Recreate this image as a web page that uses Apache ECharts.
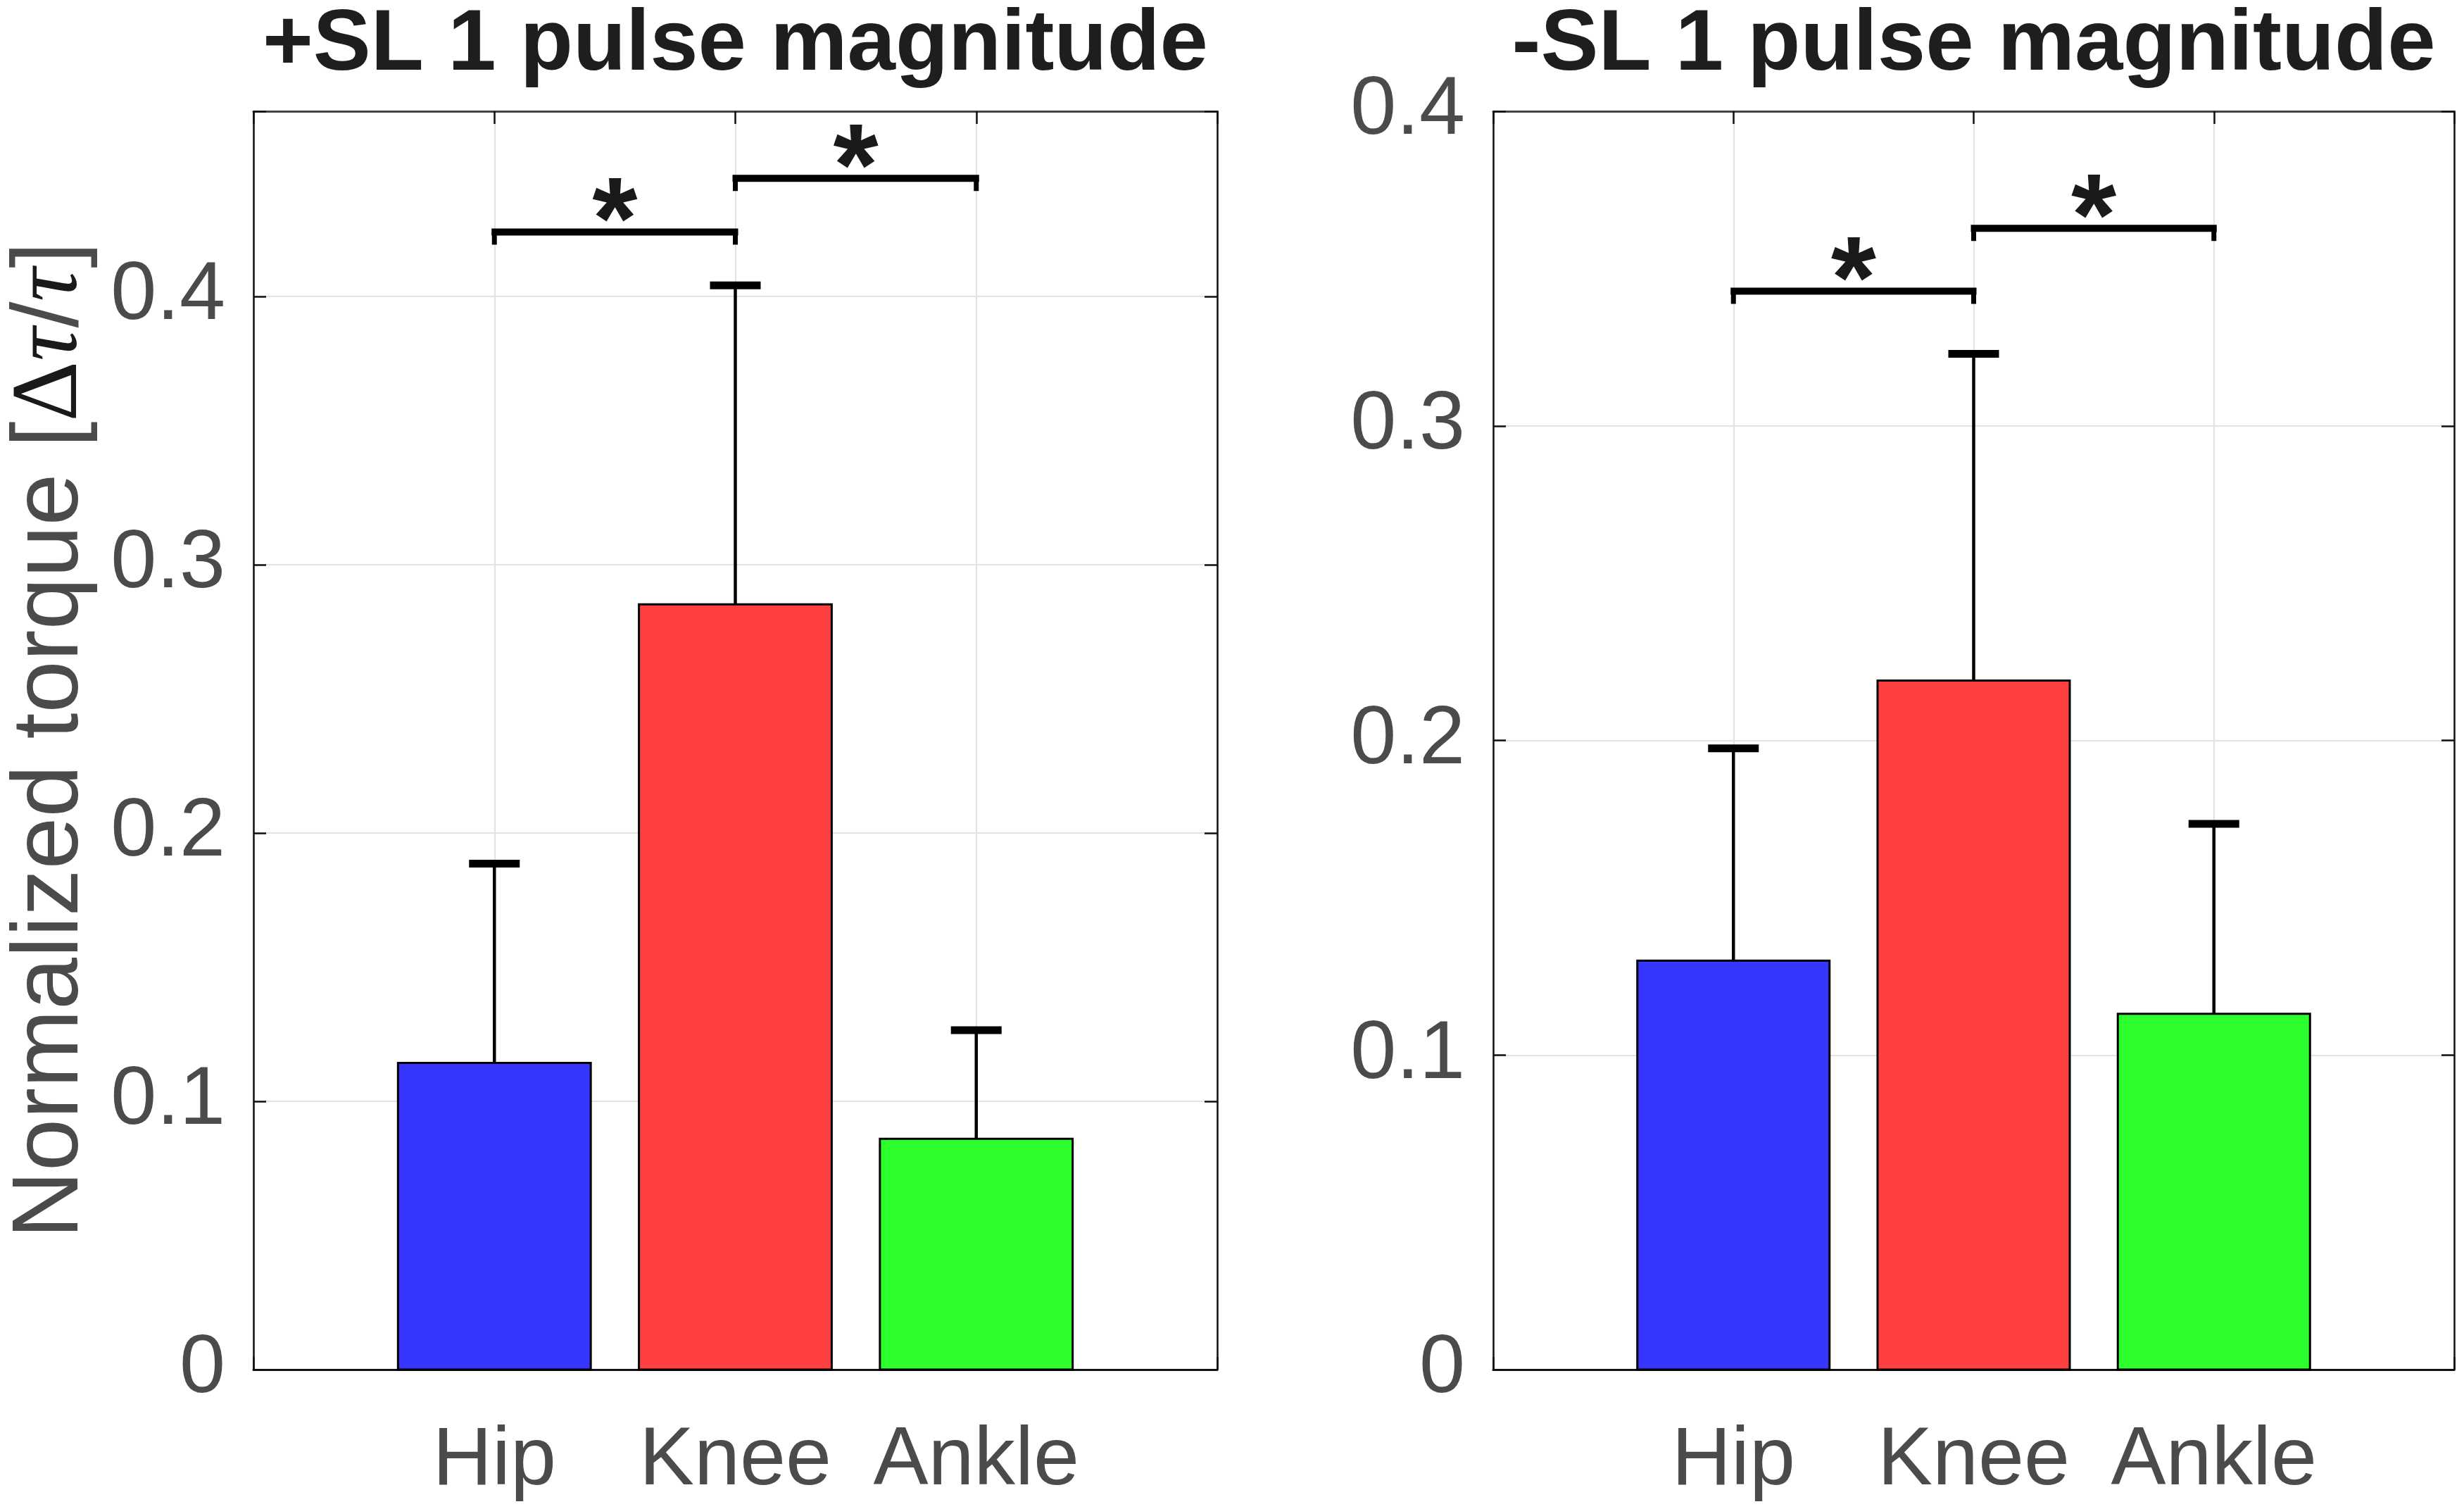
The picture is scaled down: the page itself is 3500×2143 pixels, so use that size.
<!DOCTYPE html>
<html><head><meta charset="utf-8">
<script src="https://cdn.jsdelivr.net/npm/echarts@6/dist/echarts.min.js"></script>
<style>html,body{margin:0;padding:0;background:#fff}#c{width:3500px;height:2143px}</style>
</head><body><div id="c"></div>
<script>
// ---- data ----
const categories = ['Hip', 'Knee', 'Ankle'];
const barColors = ['#3636ff', '#ff4040', '#2cff2c'];
const titles = ['+SL 1 pulse magnitude', '-SL 1 pulse magnitude'];
const yTicks = [0, 0.1, 0.2, 0.3, 0.4];
// +SL panel
const posMean = [0.1143, 0.2852, 0.0860];
const posSD   = [0.0743, 0.1189, 0.0405];
// -SL panel
const negMean = [0.1300, 0.2190, 0.1131];
const negSD   = [0.0675, 0.1039, 0.0604];
// significance brackets: [from, to] categories and bracket heights
const bracketPairs = [['Hip', 'Knee'], ['Knee', 'Ankle']];
const posBracketY = [0.4240, 0.4440];
const negBracketY = [0.3428, 0.3628];
const bracketMarks = ['*', '*'];
const posYMax = 0.469;
const negYMax = 0.4;

// ---- build ----
const catPos = c => categories.indexOf(c) + 1;
const barData = (m, s) => m.map((v, i) => [i + 1, v, s[i]]);
const brData = ys => bracketPairs.map((p, i) => [catPos(p[0]), catPos(p[1]), ys[i]]);

function barRender(params, api) {
  const x = api.value(0), m = api.value(1), sd = api.value(2);
  const base = api.coord([x, 0]);
  const top = api.coord([x, m]);
  const w = api.size([0.8, 0])[0];
  const et = api.coord([x, m + sd]);
  const capW = 72;
  return { type: 'group', children: [
    { type: 'rect', shape: { x: base[0] - w / 2, y: top[1], width: w, height: base[1] - top[1] },
      style: { fill: barColors[params.dataIndex], stroke: '#000', lineWidth: 3 } },
    { type: 'line', shape: { x1: top[0], y1: top[1], x2: top[0], y2: et[1] },
      style: { stroke: '#000', lineWidth: 4.5 } },
    { type: 'rect', shape: { x: et[0] - capW / 2, y: et[1] - 5.5, width: capW, height: 11 },
      style: { fill: '#000' } }
  ]};
}
function brRender(params, api) {
  const a = api.coord([api.value(0), api.value(2)]);
  const b = api.coord([api.value(1), api.value(2)]);
  const tip = 18;
  return { type: 'group', children: [
    { type: 'line', shape: { x1: a[0] - 4, y1: a[1], x2: b[0] + 4, y2: b[1] }, style: { stroke: '#000', lineWidth: 10 } },
    { type: 'line', shape: { x1: a[0], y1: a[1], x2: a[0], y2: a[1] + tip }, style: { stroke: '#000', lineWidth: 7 } },
    { type: 'line', shape: { x1: b[0], y1: b[1], x2: b[0], y2: b[1] + tip }, style: { stroke: '#000', lineWidth: 7 } },
    { type: 'text', x: (a[0] + b[0]) / 2, y: a[1] - 8,
      style: { text: bracketMarks[params.dataIndex], fontSize: 165, fontWeight: 'bold', fontFamily: 'Liberation Sans',
               fill: '#1a1a1a', align: 'center', verticalAlign: 'middle' } }
  ]};
}

const FONT = 'Liberation Sans';
const labelColor = '#4b4b4b';
function xAxes(gi) {
  return [
    { gridIndex: gi, type: 'value', min: 0, max: 4, interval: 1, position: 'bottom',
      axisLine: { show: true, onZero: false, lineStyle: { color: '#111', width: 3 } },
      axisTick: { show: true, inside: true, length: 18, lineStyle: { color: '#111', width: 2.5 } },
      axisLabel: { show: true, margin: 72, fontSize: 117, color: labelColor, fontFamily: FONT,
                   formatter: v => categories[v - 1] || '' },
      splitLine: { show: true, lineStyle: { color: '#e3e3e3', width: 2 } } },
    { gridIndex: gi, type: 'value', min: 0, max: 4, interval: 1, position: 'top',
      axisLine: { show: true, onZero: false, lineStyle: { color: '#444', width: 3 } },
      axisTick: { show: true, inside: true, length: 18, lineStyle: { color: '#111', width: 2.5 } },
      axisLabel: { show: false }, splitLine: { show: false } }
  ];
}
function yAxes(gi, max, withName) {
  const main = { gridIndex: gi, type: 'value', min: 0, max: max, interval: 0.1, position: 'left',
      axisLine: { show: true, onZero: false, lineStyle: { color: '#111', width: 2.5 } },
      axisTick: { show: true, inside: true, length: 18, lineStyle: { color: '#111', width: 2.5 } },
      axisLabel: { show: true, margin: 40, fontSize: 117, color: labelColor, fontFamily: FONT,
                   formatter: v => (yTicks.some(t => Math.abs(t - v) < 1e-9) ? String(+v.toFixed(1)) : '') },
      splitLine: { show: true, lineStyle: { color: '#e3e3e3', width: 2 } } };
  if (withName) {
    main.name = 'Normalized torque [{d|Δ}{t|τ}/{t|τ}]';
    main.nameLocation = 'middle';
    main.nameGap = 220;
    main.nameTextStyle = { fontSize: 133, color: labelColor, fontFamily: FONT,
      rich: { d: { fontSize: 133, fontFamily: 'Liberation Serif', color: '#1a1a1a' },
              t: { fontSize: 133, fontFamily: 'Liberation Serif', fontStyle: 'italic', color: '#1a1a1a' } } };
  }
  return [main,
    { gridIndex: gi, type: 'value', min: 0, max: max, interval: 0.1, position: 'right',
      axisLine: { show: true, onZero: false, lineStyle: { color: '#111', width: 2.5 } },
      axisTick: { show: true, inside: true, length: 18, lineStyle: { color: '#111', width: 2.5 } },
      axisLabel: { show: false }, splitLine: { show: false } }];
}

const chart = echarts.init(document.getElementById('c'), null, { renderer: 'canvas' });
chart.setOption({
  backgroundColor: '#fff',
  animation: false,
  title: [
    { text: titles[0], left: 1044.5, top: 4, textAlign: 'center', padding: 0,
      textStyle: { fontSize: 123, fontWeight: 'bold', color: '#1e1e1e', fontFamily: FONT } },
    { text: titles[1], left: 2803.5, top: 4, textAlign: 'center', padding: 0,
      textStyle: { fontSize: 123, fontWeight: 'bold', color: '#1e1e1e', fontFamily: FONT } }
  ],
  grid: [
    { left: 360, right: 1771, top: 158, bottom: 198, containLabel: false, outerBoundsMode: 'none' },
    { left: 2121, right: 14, top: 158, bottom: 198, containLabel: false, outerBoundsMode: 'none' }
  ],
  xAxis: [...xAxes(0), ...xAxes(1)],
  yAxis: [...yAxes(0, posYMax, true), ...yAxes(1, negYMax, false)],
  series: [
    { type: 'custom', xAxisIndex: 0, yAxisIndex: 0, renderItem: barRender, data: barData(posMean, posSD), encode: { x: 0, y: 1 }, z: 5 },
    { type: 'custom', xAxisIndex: 0, yAxisIndex: 0, renderItem: brRender, data: brData(posBracketY), encode: { x: [0, 1], y: 2 }, z: 6 },
    { type: 'custom', xAxisIndex: 2, yAxisIndex: 2, renderItem: barRender, data: barData(negMean, negSD), encode: { x: 0, y: 1 }, z: 5 },
    { type: 'custom', xAxisIndex: 2, yAxisIndex: 2, renderItem: brRender, data: brData(negBracketY), encode: { x: [0, 1], y: 2 }, z: 6 }
  ]
});
</script></body></html>
